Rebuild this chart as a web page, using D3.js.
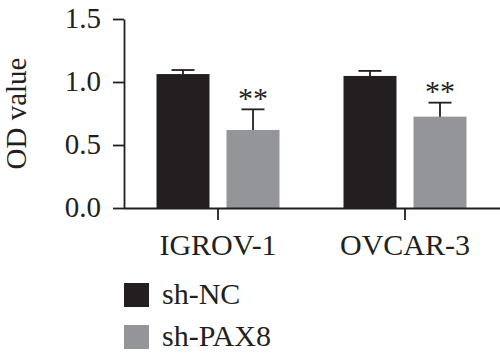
<!DOCTYPE html>
<html>
<head>
<meta charset="utf-8">
<script src="https://cdn.jsdelivr.net/npm/d3@7"></script>
<style>
  html, body { margin: 0; padding: 0; background: #fff; }
  svg { display: block; }
  text { font-family: "Liberation Serif", "Times New Roman", serif; fill: #231f20; }
</style>
</head>
<body>
<svg id="chart" width="500" height="356"></svg>
<script>
const categories = ["IGROV-1", "OVCAR-3"];
const series = ["sh-NC", "sh-PAX8"];
const shNC = [1.063, 1.048];
const shNCErr = [0.032, 0.04];
const shPAX8 = [0.619, 0.725];
const shPAX8Err = [0.164, 0.111];
const significance = ["", "**"]; // per series: sh-NC none, sh-PAX8 "**"
const yTicks = [0.0, 0.5, 1.0, 1.5];

const colors = { "sh-NC": "#231f20", "sh-PAX8": "#939598" };
const values = { "sh-NC": shNC, "sh-PAX8": shPAX8 };
const errors = { "sh-NC": shNCErr, "sh-PAX8": shPAX8Err };

const svg = d3.select("#chart");
const plot = { left: 124, right: 499, top: 19, bottom: 208 };

const y = d3.scaleLinear().domain([0, 1.5]).range([plot.bottom, plot.top]);
const x0 = d3.scaleBand().domain(categories).range([plot.left + 0.5, plot.right - 0.5]).padding(0);
const x1 = d3.scaleBand().domain(series).range([-61.5, 61.5]).paddingInner(0.243).paddingOuter(0);

const data = [];
categories.forEach((c, i) => {
  series.forEach((s, j) => {
    data.push({ cat: c, ser: s, v: values[s][i], e: errors[s][i], sig: significance[j] });
  });
});

// bars
const g = svg.append("g");
g.selectAll("rect.bar").data(data).enter().append("rect")
  .attr("class", "bar")
  .attr("x", d => x0(d.cat) + x0.bandwidth() / 2 + x1(d.ser))
  .attr("y", d => y(d.v))
  .attr("width", x1.bandwidth())
  .attr("height", d => y(0) - y(d.v))
  .attr("fill", d => colors[d.ser]);

// error bars (upper only)
const eb = g.selectAll("g.err").data(data).enter().append("g").attr("class", "err");
const cx = d => x0(d.cat) + x0.bandwidth() / 2 + x1(d.ser) + x1.bandwidth() / 2;
eb.append("line")
  .attr("x1", cx).attr("x2", cx)
  .attr("y1", d => y(d.v)).attr("y2", d => y(d.v + d.e))
  .attr("stroke", "#231f20").attr("stroke-width", 1.8);
eb.append("line")
  .attr("x1", d => cx(d) - 11.5).attr("x2", d => cx(d) + 11.5)
  .attr("y1", d => y(d.v + d.e)).attr("y2", d => y(d.v + d.e))
  .attr("stroke", "#231f20").attr("stroke-width", 1.8);

// significance stars
g.selectAll("text.sig").data(data.filter(d => d.sig)).enter().append("text")
  .attr("class", "sig")
  .attr("x", d => cx(d))
  .attr("y", d => y(d.v + d.e) - 1.5)
  .attr("text-anchor", "middle")
  .style("font-size", "30px")
  .text(d => d.sig);

// y axis
const yAxis = d3.axisLeft(y).tickValues(yTicks).tickFormat(d3.format(".1f")).tickSize(11).tickSizeOuter(0).tickPadding(12);
const ya = svg.append("g").attr("transform", `translate(${plot.left},0)`).call(yAxis);
ya.selectAll("path, line").attr("stroke", "#231f20").attr("stroke-width", 1.8);
ya.selectAll("text").style("font-size", "29px").attr("dy", "0.30em").attr("fill", "#231f20");

// x axis
const xAxis = d3.axisBottom(x0).tickSize(12).tickSizeOuter(0).tickPadding(14);
const xa = svg.append("g").attr("transform", `translate(0,${plot.bottom})`).call(xAxis);
xa.select(".domain").attr("d", `M${plot.left},0.5H${plot.right + 1}`);
xa.selectAll("path, line").attr("stroke", "#231f20").attr("stroke-width", 1.8);
xa.selectAll("text").style("font-size", "30px").attr("dy", "0.71em").attr("fill", "#231f20");

// y label
svg.append("text")
  .attr("transform", `translate(26,113.5) rotate(-90)`)
  .attr("text-anchor", "middle")
  .style("font-size", "29px")
  .text("OD value");

// legend
const legend = svg.append("g");
const ly = d3.scaleBand().domain(series).range([283, 367]).paddingInner(0);
const lg = legend.selectAll("g").data(series).enter().append("g")
  .attr("transform", d => `translate(124,${ly(d)})`);
lg.append("rect").attr("width", 25).attr("height", 24).attr("fill", d => colors[d]);
lg.append("text").attr("x", 38).attr("y", 20.5).style("font-size", "30px").text(d => d);
</script>
</body>
</html>
